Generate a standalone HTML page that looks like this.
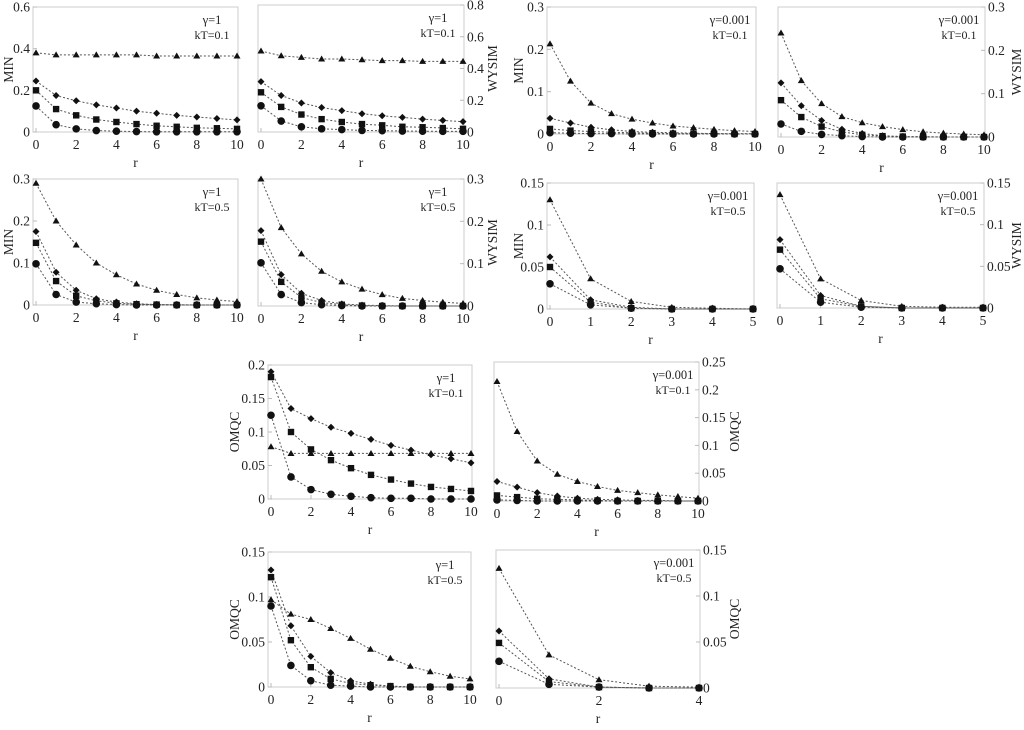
<!DOCTYPE html>
<html><head><meta charset="utf-8"><style>
body{margin:0;background:#fff;width:1024px;height:725px;overflow:hidden}
svg text{font-family:"Liberation Serif","Times New Roman",serif;fill:#222}
</style></head><body>
<svg id="fig" width="1024" height="725" viewBox="0 0 1024 725" xmlns="http://www.w3.org/2000/svg"></svg>
<script>
// ---- data (tri, diamond, square, circle per panel) ----
const r10 = [0,1,2,3,4,5,6,7,8,9,10];
const r5 = [0,1,2,3,4,5];
const r4 = [0,1,2,3,4];
const p1Tri=[.38,.37,.37,.37,.37,.37,.365,.365,.365,.365,.365];
const p1Dia=[.245,.175,.15,.13,.115,.1,.09,.08,.072,.065,.058];
const p1Sq=[.2,.11,.08,.06,.048,.038,.03,.025,.02,.018,.015];
const p1Cir=[.125,.035,.015,.007,.004,.002,.001,.001,.001,.001,.001];
const p2Tri=[.51,.48,.47,.46,.46,.455,.45,.45,.445,.445,.445];
const p2Dia=[.317,.23,.183,.154,.135,.115,.102,.092,.081,.073,.065];
const p2Sq=[.25,.158,.11,.081,.063,.05,.042,.033,.03,.025,.02];
const p2Cir=[.165,.069,.033,.02,.015,.01,.008,.006,.005,.004,.004];
const p3Tri=[.29,.2,.143,.1,.072,.05,.035,.025,.017,.012,.008];
const p3Dia=[.175,.078,.035,.015,.007,.003,.001,.001,0,0,0];
const p3Sq=[.148,.057,.022,.01,.004,.002,.001,0,0,0,0];
const p3Cir=[.098,.025,.007,.003,.001,0,0,0,0,0,0];
const p4Tri=[.3,.185,.123,.082,.057,.04,.027,.018,.013,.009,.006];
const p4Dia=[.178,.074,.03,.013,.005,.002,.001,0,0,0,0];
const p4Sq=[.152,.057,.02,.008,.003,.001,0,0,0,0,0];
const p4Cir=[.102,.027,.008,.003,.001,0,0,0,0,0,0];
const p5Tri=[.213,.125,.073,.048,.035,.026,.019,.015,.011,.008,.006];
const p5Dia=[.037,.026,.016,.01,.006,.004,.003,.002,.001,.001,.001];
const p5Sq=[.012,.008,.006,.004,.003,.002,.001,.001,.001,0,0];
const p5Cir=[.003,.002,.001,.001,0,0,0,0,0,0,0];
const p6Tri=[.24,.13,.077,.047,.033,.024,.017,.012,.009,.007,.005];
const p6Dia=[.125,.072,.038,.018,.008,.003,.001,.001,0,0,0];
const p6Sq=[.085,.046,.024,.012,.005,.002,.001,0,0,0,0];
const p6Cir=[.03,.013,.006,.003,.001,0,0,0,0,0,0];
const p7Tri=[.13,.036,.009,.002,.001,0];
const p7Dia=[.062,.011,.002,0,0,0];
const p7Sq=[.05,.008,.001,0,0,0];
const p7Cir=[.03,.005,.001,0,0,0];
const p8Tri=[.136,.035,.009,.002,.001,.001];
const p8Dia=[.082,.015,.002,0,0,0];
const p8Sq=[.07,.011,.002,0,0,0];
const p8Cir=[.047,.007,.001,0,0,0];
const p9Tri=[.078,.068,.068,.068,.068,.068,.068,.068,.068,.068,.068];
const p9Dia=[.19,.135,.12,.107,.098,.089,.08,.073,.066,.06,.054];
const p9Sq=[.182,.1,.074,.058,.046,.036,.029,.023,.018,.015,.012];
const p9Cir=[.125,.033,.014,.007,.004,.002,.001,.001,0,0,0];
const p10Tri=[.215,.125,.072,.048,.035,.026,.019,.015,.011,.008,.005];
const p10Dia=[.035,.025,.015,.009,.005,.003,.002,.001,.001,0,0];
const p10Sq=[.01,.007,.004,.003,.002,.001,0,0,0,0,0];
const p10Cir=[.002,.001,0,0,0,0,0,0,0,0,0];
const p11Tri=[.097,.081,.075,.065,.054,.042,.032,.023,.017,.012,.009];
const p11Dia=[.13,.068,.034,.016,.007,.003,.001,0,0,0,0];
const p11Sq=[.122,.052,.022,.009,.004,.002,.001,0,0,0,0];
const p11Cir=[.09,.024,.007,.002,.001,0,0,0,0,0,0];
const p12Tri=[.13,.036,.009,.002,.001];
const p12Dia=[.062,.01,.001,0,0];
const p12Sq=[.049,.007,.001,0,0];
const p12Cir=[.029,.004,.001,0,0];
const yt6=["0","0.2","0.4","0.6"], yt8=["0","0.2","0.4","0.6","0.8"], yt3=["0","0.1","0.2","0.3"];
const yt15=["0","0.05","0.1","0.15"], yt20=["0","0.05","0.1","0.15","0.2"], yt25=["0","0.05","0.1","0.15","0.2","0.25"];
const xt10=["0","2","4","6","8","10"], xt5=["0","1","2","3","4","5"], xt4=["0","2","4"];

// ---- layout ----
const panels=[
 {n:1,x0:36,x1:237,xmax:10,y0:132,y1:7,ymax:.6,yt:yt6,xt:xt10,r:r10,side:'L',lab:'MIN',labX:10,g:'γ=1',k:'kT=0.1',s:[p1Tri,p1Dia,p1Sq,p1Cir]},
 {n:2,x0:261,x1:463,xmax:10,y0:132,y1:5,ymax:.8,yt:yt8,xt:xt10,r:r10,side:'R',lab:'WYSIM',labX:494,g:'γ=1',k:'kT=0.1',s:[p2Tri,p2Dia,p2Sq,p2Cir]},
 {n:3,x0:36,x1:237,xmax:10,y0:305,y1:179,ymax:.3,yt:yt3,xt:xt10,r:r10,side:'L',lab:'MIN',labX:10,g:'γ=1',k:'kT=0.5',s:[p3Tri,p3Dia,p3Sq,p3Cir]},
 {n:4,x0:261,x1:463,xmax:10,y0:306,y1:179,ymax:.3,yt:yt3,xt:xt10,r:r10,side:'R',lab:'WYSIM',labX:494,g:'γ=1',k:'kT=0.5',s:[p4Tri,p4Dia,p4Sq,p4Cir]},
 {n:5,x0:550,x1:755,xmax:10,y0:134,y1:7,ymax:.3,yt:yt3,xt:xt10,r:r10,side:'L',lab:'MIN',labX:520,g:'γ=0.001',k:'kT=0.1',s:[p5Tri,p5Dia,p5Sq,p5Cir]},
 {n:6,x0:781,x1:984,xmax:10,y0:137,y1:7,ymax:.3,yt:yt3,xt:xt10,r:r10,side:'R',lab:'WYSIM',labX:1018,g:'γ=0.001',k:'kT=0.1',s:[p6Tri,p6Dia,p6Sq,p6Cir]},
 {n:7,x0:550,x1:753,xmax:5,y0:309,y1:183,ymax:.15,yt:yt15,xt:xt5,r:r5,side:'L',lab:'MIN',labX:520,g:'γ=0.001',k:'kT=0.5',s:[p7Tri,p7Dia,p7Sq,p7Cir]},
 {n:8,x0:780,x1:983,xmax:5,y0:308,y1:183,ymax:.15,yt:yt15,xt:xt5,r:r5,side:'R',lab:'WYSIM',labX:1018,g:'γ=0.001',k:'kT=0.5',s:[p8Tri,p8Dia,p8Sq,p8Cir]},
 {n:9,x0:271,x1:471,xmax:10,y0:499,y1:365,ymax:.2,yt:yt20,xt:xt10,r:r10,side:'L',lab:'OMQC',labX:236,g:'γ=1',k:'kT=0.1',s:[p9Tri,p9Dia,p9Sq,p9Cir]},
 {n:10,x0:497,x1:698,xmax:10,y0:501,y1:362,ymax:.25,yt:yt25,xt:xt10,r:r10,side:'R',lab:'OMQC',labX:736,g:'γ=0.001',k:'kT=0.1',s:[p10Tri,p10Dia,p10Sq,p10Cir]},
 {n:11,x0:271,x1:470,xmax:10,y0:687,y1:552,ymax:.15,yt:yt15,xt:xt10,r:r10,side:'L',lab:'OMQC',labX:236,g:'γ=1',k:'kT=0.5',s:[p11Tri,p11Dia,p11Sq,p11Cir]},
 {n:12,x0:499,x1:699,xmax:4,y0:688,y1:550,ymax:.15,yt:yt15,xt:xt4,r:r4,side:'R',lab:'OMQC',labX:736,g:'γ=0.001',k:'kT=0.5',s:[p12Tri,p12Dia,p12Sq,p12Cir]}
];
const NS="http://www.w3.org/2000/svg";
const SERIF="Liberation Serif, Times New Roman, serif";
const fig=document.getElementById('fig');
function mk(tag,attrs,parent){const e=document.createElementNS(NS,tag);for(const k in attrs)e.setAttribute(k,attrs[k]);parent.appendChild(e);return e;}
const shapes=['triangle','diamond','square','circle'];
function marker(g,shape,x,y){
  if(shape==='triangle')return mk('polygon',{points:`${x},${y-3.5} ${x-3.5},${y+2.5} ${x+3.5},${y+2.5}`,fill:'#111'},g);
  if(shape==='diamond')return mk('polygon',{points:`${x},${y-3.5} ${x+3.5},${y} ${x},${y+3.5} ${x-3.5},${y}`,fill:'#111'},g);
  if(shape==='square')return mk('rect',{x:x-3.2,y:y-3.2,width:6.4,height:6.4,fill:'#111'},g);
  return mk('circle',{cx:x,cy:y,r:3.8,fill:'#111'},g);
}
panels.forEach(p=>{
  const g=mk('g',{},fig);
  
  
  const X=v=>p.x0+(p.x1-p.x0)*v/p.xmax;
  const Y=v=>p.y0-(p.y0-p.y1)*v/p.ymax;
  const bl=p.x0-3, br=p.x1+1;
  const box=mk('rect',{x:bl,y:p.y1,width:br-bl,height:p.y0-p.y1,fill:'none',stroke:'#ccc','stroke-width':1},g);
  
  
  const ny=p.yt.length-1;
  p.yt.forEach((t,i)=>{
    const yy=Y(p.ymax*i/ny);
    const ax=p.side==='L'?bl:br;
    mk('line',{x1:ax,x2:ax+(p.side==='L'?4:-4),y1:yy,y2:yy,stroke:'#bbb'},g);
    const tx=mk('text',{x:p.side==='L'?bl-3:br+3,y:yy+4.5,'font-size':13.5,'font-family':SERIF,'text-anchor':p.side==='L'?'end':'start'},g);
    tx.textContent=t;
    
    
  });
  const nx=p.xt.length-1;
  p.xt.forEach((t,i)=>{
    const xx=X(p.xmax*i/nx);
    mk('line',{x1:xx,x2:xx,y1:p.y0,y2:p.y0-4,stroke:'#bbb'},g);
    const tx=mk('text',{x:xx,y:p.y0+17,'font-size':13.5,'font-family':SERIF,'text-anchor':'middle'},g);
    tx.textContent=t;
    
    
  });
  const xl=mk('text',{x:(bl+br)/2,y:p.y0+35,'font-size':13.5,'font-family':SERIF,'text-anchor':'middle'},g);
  xl.textContent='r';
  
  
  const cy=(p.y0+p.y1)/2;
  const yl=mk('text',{x:p.labX,y:cy,'font-size':13.5,'font-family':SERIF,'text-anchor':'middle',transform:`rotate(-90 ${p.labX} ${cy})`,'dominant-baseline':'middle'},g);
  yl.textContent=p.lab;
  
  
  const a1=mk('text',{x:br-26,y:p.y1+17,'font-size':12.5,'font-family':SERIF,'text-anchor':'middle'},g);
  a1.textContent=p.g;
  
  
  const a2=mk('text',{x:br-26,y:p.y1+32,'font-size':12,'font-family':'Liberation Sans, Arial, sans-serif','text-anchor':'middle'},g);
  a2.textContent=p.k;
  
  
  p.s.forEach((ser,si)=>{
    const sg=mk('g',{},g);
    
    
    const pts=ser.map((v,i)=>X(p.r[i]).toFixed(1)+','+Y(v).toFixed(1)).join(' ');
    const ln=mk('polyline',{points:pts,fill:'none',stroke:'#555','stroke-width':1,'stroke-dasharray':'2,2'},sg);
    
    
    ser.forEach((v,i)=>{
      const m=marker(sg,shapes[si],X(p.r[i]),Y(v));
      
      
    });
  });
});
</script>
</body></html>
